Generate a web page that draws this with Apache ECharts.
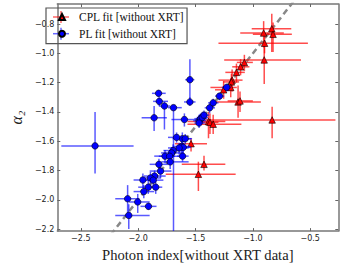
<!DOCTYPE html>
<html><head><meta charset="utf-8">
<script src="https://cdn.jsdelivr.net/npm/echarts@6/dist/echarts.min.js"></script>
<style>html,body{margin:0;padding:0;background:#fff}#c{width:345px;height:267px}</style>
</head><body><div id="c"></div>
<script>
// axis ticks and ranges
const xTicks = [-2.5, -2.0, -1.5, -1.0, -0.5];
const yTicks = [-2.2, -2.0, -1.8, -1.6, -1.4, -1.2, -1.0, -0.8];
const xRange = [-2.705, -0.255];
const yRange = [-2.214, -0.663];
// reference line y = x
const refLine = [[-2.4, -2.4], [-0.5, -0.5]];
// series names
const cplName = 'CPL fit [without XRT]';
const plName = 'PL fit [without XRT]';
// [x, y, xLow, xHigh, yLow, yHigh]
const cplPoints = [
  [-0.835, -0.832, -1.01, -0.665, -0.99, -0.73],
  [-0.906, -0.861, -1.11, -0.73, -0.96, -0.78],
  [-0.824, -0.870, -1.00, -0.66, -0.99, -0.79],
  [-0.898, -0.931, -1.30, -0.52, -1.00, -0.86],
  [-0.901, -1.045, -1.25, -0.58, -1.21, -0.93],
  [-1.074, -1.062, -1.14, -1.00, -1.12, -1.01],
  [-1.107, -1.092, -1.18, -1.03, -1.15, -1.04],
  [-1.143, -1.130, -1.24, -1.07, -1.20, -1.07],
  [-1.181, -1.183, -1.30, -1.09, -1.26, -1.11],
  [-1.187, -1.195, -1.26, -1.12, -1.25, -1.14],
  [-1.193, -1.233, -1.37, -1.14, -1.30, -1.17],
  [-1.255, -1.249, -1.33, -1.18, -1.31, -1.19],
  [-1.129, -1.332, -1.33, -0.93, -1.44, -1.22],
  [-1.112, -1.325, -1.22, -1.00, -1.40, -1.26],
  [-0.832, -1.455, -1.42, -0.28, -1.58, -1.365],
  [-1.387, -1.466, -1.57, -1.24, -1.58, -1.40],
  [-1.374, -1.471, -1.45, -1.30, -1.55, -1.41],
  [-1.346, -1.484, -1.57, -1.10, -1.55, -1.42],
  [-1.539, -1.617, -1.68, -1.40, -1.67, -1.58],
  [-1.426, -1.758, -1.62, -1.24, -1.80, -1.70],
  [-1.475, -1.826, -1.76, -1.15, -1.94, -1.74]
];
const plPoints = [
  [-2.376, -1.632, -2.67, -2.04, -1.82, -1.40],
  [-1.549, -1.180, -1.59, -1.51, -1.33, -1.04],
  [-1.549, -1.332, -1.60, -1.50, -1.36, -1.30],
  [-1.822, -1.273, -1.88, -1.76, -1.30, -1.25],
  [-1.816, -1.328, -1.87, -1.74, -1.36, -1.30],
  [-1.771, -1.360, -1.82, -1.72, -1.52, -1.33],
  [-1.861, -1.440, -1.97, -1.75, -1.53, -1.36],
  [-1.692, -1.371, -1.74, -1.62, -2.25, -1.35],
  [-1.597, -1.452, -1.71, -1.47, -1.50, -1.41],
  [-1.469, -1.460, -1.52, -1.41, -1.50, -1.42],
  [-1.456, -1.446, -1.51, -1.40, -1.49, -1.41],
  [-1.441, -1.438, -1.49, -1.39, -1.48, -1.40],
  [-1.426, -1.422, -1.47, -1.38, -1.46, -1.39],
  [-1.377, -1.372, -1.42, -1.33, -1.41, -1.34],
  [-1.346, -1.338, -1.39, -1.30, -1.37, -1.31],
  [-1.291, -1.292, -1.33, -1.25, -1.32, -1.27],
  [-1.228, -1.232, -1.27, -1.19, -1.26, -1.21],
  [-1.469, -1.476, -1.51, -1.42, -1.51, -1.44],
  [-1.615, -1.583, -1.70, -1.54, -1.63, -1.54],
  [-1.590, -1.583, -1.65, -1.53, -1.62, -1.55],
  [-1.665, -1.574, -1.74, -1.60, -1.61, -1.54],
  [-1.621, -1.636, -1.70, -1.55, -1.68, -1.60],
  [-1.607, -1.642, -1.67, -1.54, -1.68, -1.61],
  [-1.643, -1.646, -1.74, -1.56, -1.69, -1.61],
  [-1.613, -1.702, -1.66, -1.56, -1.74, -1.66],
  [-1.695, -1.664, -1.78, -1.62, -1.71, -1.62],
  [-1.709, -1.680, -1.80, -1.62, -1.72, -1.64],
  [-1.766, -1.702, -1.86, -1.68, -1.75, -1.66],
  [-1.726, -1.703, -1.82, -1.64, -1.74, -1.66],
  [-1.721, -1.741, -1.80, -1.56, -1.79, -1.69],
  [-1.819, -1.758, -1.90, -1.74, -1.80, -1.72],
  [-1.805, -1.804, -1.90, -1.71, -1.85, -1.76],
  [-1.857, -1.838, -1.95, -1.76, -1.88, -1.80],
  [-1.893, -1.851, -1.98, -1.80, -1.89, -1.81],
  [-1.869, -1.866, -1.97, -1.78, -1.91, -1.82],
  [-1.959, -1.865, -2.04, -1.87, -1.92, -1.82],
  [-1.912, -1.914, -2.00, -1.83, -1.96, -1.87],
  [-1.847, -1.914, -1.91, -1.79, -1.96, -1.87],
  [-1.951, -1.944, -2.04, -1.86, -1.99, -1.90],
  [-2.004, -2.015, -2.08, -1.90, -2.09, -1.96],
  [-1.910, -2.045, -1.98, -1.84, -2.07, -2.02],
  [-2.092, -1.993, -2.20, -1.99, -2.09, -1.90],
  [-2.082, -2.107, -2.20, -1.90, -2.20, -2.03]
];

const fmt = v => (v < 0 ? '\u2212' : '') + Math.abs(v).toFixed(1);
const frame = { show: true, lineStyle: { color: '#777', width: 1.5 } };
const tickStyle = { show: true, inside: true, length: 3, lineStyle: { color: '#666', width: 1 } };
const labelFont = { fontFamily: 'DejaVu Sans', fontSize: 8, color: '#222' };

function errRender(color) {
  return function (params, api) {
    const x = api.value(0), y = api.value(1);
    const p = api.coord([x, y]);
    const xl = api.coord([api.value(2), y]);
    const xh = api.coord([api.value(3), y]);
    const yl = api.coord([x, api.value(4)]);
    const yh = api.coord([x, api.value(5)]);
    const style = { stroke: color, lineWidth: 1.5, fill: null };
    return {
      type: 'group',
      children: [
        { type: 'line', shape: { x1: xl[0], y1: p[1], x2: xh[0], y2: p[1] }, style: style },
        { type: 'line', shape: { x1: p[0], y1: yl[1], x2: p[0], y2: yh[1] }, style: style }
      ]
    };
  };
}

const chart = echarts.init(document.getElementById('c'), null, { renderer: 'svg' });
chart.setOption({
  animation: false,
  backgroundColor: '#fff',
  grid: { left: 41.7, right: 6.7, top: 4, bottom: 32.7 },
  xAxis: [{
    type: 'value', min: xRange[0], max: xRange[1], position: 'bottom',
    axisLine: frame, splitLine: { show: false },
    axisTick: Object.assign({ customValues: xTicks }, tickStyle),
    axisLabel: Object.assign({ customValues: xTicks, formatter: fmt, margin: 3 }, labelFont),
    name: 'Photon index[without XRT data]', nameLocation: 'middle', nameGap: 13,
    nameTextStyle: { fontFamily: 'Liberation Serif', fontSize: 14.6, color: '#222' }
  }, {
    type: 'value', min: xRange[0], max: xRange[1], position: 'top',
    axisLine: frame, splitLine: { show: false },
    axisTick: Object.assign({ customValues: xTicks }, tickStyle),
    axisLabel: { show: false }
  }],
  yAxis: [{
    type: 'value', min: yRange[0], max: yRange[1], position: 'left',
    axisLine: frame, splitLine: { show: false },
    axisTick: Object.assign({ customValues: yTicks }, tickStyle),
    axisLabel: Object.assign({ customValues: yTicks, formatter: fmt, margin: 3 }, labelFont),
    name: 'α₂', nameLocation: 'middle', nameGap: 31, nameRotate: 90,
    nameTextStyle: { fontFamily: 'Liberation Serif', fontStyle: 'italic', fontSize: 16, color: '#222' }
  }, {
    type: 'value', min: yRange[0], max: yRange[1], position: 'right',
    axisLine: frame, splitLine: { show: false },
    axisTick: Object.assign({ customValues: yTicks }, tickStyle),
    axisLabel: { show: false }
  }],
  legend: {
    orient: 'vertical', left: 46, top: 8, padding: [2, 3, 3, 12],
    itemWidth: 6, itemHeight: 6, itemGap: 2.7,
    borderColor: '#555', borderWidth: 1.2, backgroundColor: 'transparent',
    textStyle: { fontFamily: 'Liberation Serif', fontSize: 11.5, lineHeight: 14, color: '#111', padding: [0, 0, 0, 9] },
    data: [{ name: cplName, icon: 'triangle' }, { name: plName, icon: 'circle' }]
  },
  graphic: [
    { type: 'line', z: 3, shape: { x1: 53, y1: 17, x2: 69, y2: 17 }, style: { stroke: 'rgba(255,0,0,0.6)', lineWidth: 1.5 } },
    { type: 'line', z: 3, shape: { x1: 61, y1: 11, x2: 61, y2: 23 }, style: { stroke: 'rgba(255,0,0,0.6)', lineWidth: 1.5 } },
    { type: 'line', z: 3, shape: { x1: 53, y1: 33.7, x2: 69, y2: 33.7 }, style: { stroke: 'rgba(0,0,255,0.6)', lineWidth: 1.5 } },
    { type: 'line', z: 3, shape: { x1: 61, y1: 27.7, x2: 61, y2: 39.7 }, style: { stroke: 'rgba(0,0,255,0.6)', lineWidth: 1.5 } }
  ],
  series: [
    {
      type: 'line', name: 'ref', data: refLine, symbol: 'none', z: 1, clip: true,
      lineStyle: { color: '#888', width: 2.5, type: [6, 4] }, silent: true
    },
    {
      type: 'custom', name: 'cplErr', data: cplPoints, renderItem: errRender('rgba(255,0,0,0.7)'),
      encode: { x: 0, y: 1 }, clip: true, z: 2, silent: true
    },
    {
      type: 'scatter', name: cplName, data: cplPoints.map(p => [p[0], p[1]]),
      symbol: 'triangle', symbolSize: 6.5, z: 3,
      itemStyle: { color: '#ff0000', borderColor: '#000', borderWidth: 0.6, opacity: 1 }
    },
    {
      type: 'custom', name: 'plErr', data: plPoints, renderItem: errRender('rgba(0,0,255,0.65)'),
      encode: { x: 0, y: 1 }, clip: true, z: 4, silent: true
    },
    {
      type: 'scatter', name: plName, data: plPoints.map(p => [p[0], p[1]]),
      symbol: 'circle', symbolSize: 6.5, z: 5,
      itemStyle: { color: '#0000ff', borderColor: '#000', borderWidth: 0.6, opacity: 1 }
    }
  ]
});
</script>
</body></html>
